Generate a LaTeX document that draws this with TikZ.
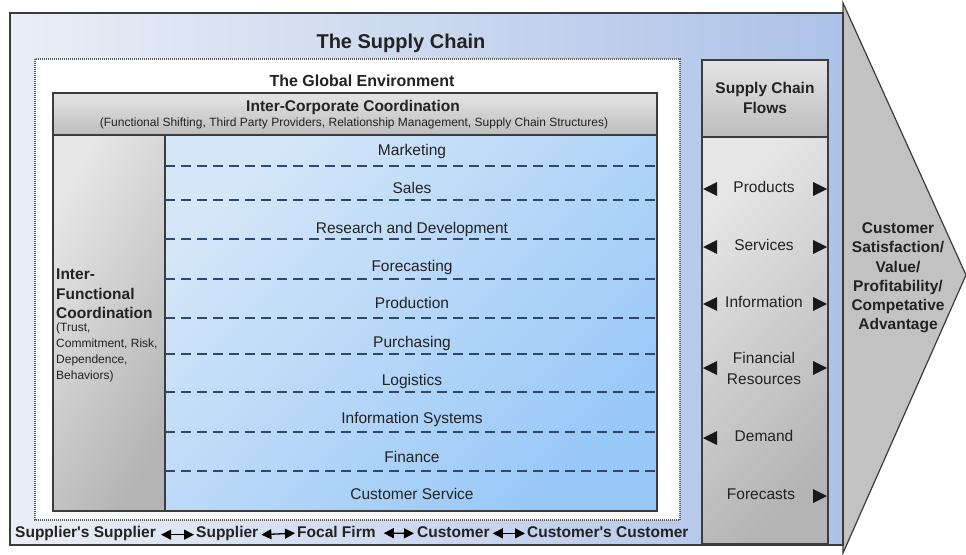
\documentclass[tikz,border=0pt]{standalone}
\usepackage{fontspec}
\setmainfont{Liberation Sans}[Ligatures=TeXOff]
\usetikzlibrary{arrows.meta}
\definecolor{bordc}{HTML}{3C3C3C}
\definecolor{txt}{HTML}{222222}
\definecolor{outL}{HTML}{EAEEF5}
\definecolor{outR}{HTML}{ADC2E8}
\definecolor{hdT}{HTML}{E4E4E4}
\definecolor{hdB}{HTML}{BDBDBD}
\definecolor{colT}{HTML}{E6E6E6}
\definecolor{colB}{HTML}{B4B4B4}
\definecolor{bluT}{HTML}{D4E6F8}
\definecolor{bluB}{HTML}{98C8F8}
\definecolor{dashc}{HTML}{2D4A6C}
\definecolor{dotc}{HTML}{5A5A5A}
\definecolor{arrc}{HTML}{C2C2C2}
\begin{document}
\begin{tikzpicture}[x=1pt,y=-1pt,
  bord/.style={draw=bordc, line width=1.6pt},
  ttl/.style={inner sep=0pt, text=txt, font=\fontsize{20}{24}\selectfont\bfseries},
  hd/.style={inner sep=0pt, text=txt, font=\fontsize{15.5}{19.2}\selectfont\bfseries, align=center},
  fn/.style={inner sep=0pt, text=txt, font=\fontsize{15.5}{21}\selectfont, align=center},
  sm/.style={inner sep=0pt, text=txt, font=\fontsize{12}{15.7}\selectfont, align=left},
  dashln/.style={draw=dashc, line width=1.7pt, dash pattern=on 10pt off 6pt},
  tri/.style={fill=black!90},
  chainarrow/.style={draw=black, line width=1.3pt, {Triangle[length=10pt,width=10pt]}-{Triangle[length=10pt,width=10pt]}},
]
\useasboundingbox (0,0) rectangle (966,554);
\fill[white] (0,0) rectangle (966,554);

% big arrow
\filldraw[fill=arrc, draw=bordc, line width=1.2pt] (843,3) -- (966,275) -- (843,553) -- cycle;

% outer supply chain box
\shade[left color=outL, right color=outR] (10,13) rectangle (843,545);
\draw[bord] (10,13) rectangle (843,545);

% global environment
\fill[white] (35,59) rectangle (680,520);
\draw[draw=dotc, line width=1.5pt, dash pattern=on 1pt off 1pt] (35,59) rectangle (680,520);

% inter-corporate box
\shade[top color=hdT, bottom color=hdB] (53,93) rectangle (657,135);
\shade[top color=colT, bottom color=colB, shading angle=60] (53,135) rectangle (165,511);
\shade[top color=bluT, bottom color=bluB, shading angle=45] (165,135) rectangle (657,511);
\foreach \yy in {166,200,239,279,318,354,392,432,471}
  \draw[dashln] (165,\yy) -- (657,\yy);
\draw[bord] (53,93) rectangle (657,511);
\draw[bord] (53,135) -- (657,135);
\draw[bord] (165,135) -- (165,511);

% flows box
\shade[top color=hdT, bottom color=hdB] (702,60) rectangle (828,137);
\shade[top color=colT, bottom color=colB, shading angle=45] (702,137) rectangle (828,544);
\draw[bord] (702,60) rectangle (828,544);
\draw[bord] (702,137) -- (828,137);

% titles
\node[ttl, anchor=base] (title) at (401,48) {The Supply Chain};
\node[hd, anchor=base, font=\fontsize{16}{19}\selectfont\bfseries] (global) at (362,86) {The Global Environment};
\node[hd, anchor=base] (icc) at (353,111.5) {Inter-Corporate Coordination};
\node[sm, anchor=base] (iccsub) at (354,126.3) {(Functional Shifting, Third Party Providers, Relationship Management, Supply Chain Structures)};

% functions
\node[fn, anchor=base] (mk) at (412,155.5) {Marketing};
\node[fn, anchor=base] (sa) at (412,193.5) {Sales};
\node[fn, anchor=base] (rd) at (412,233.5) {Research and Development};
\node[fn, anchor=base] (fc) at (412,271.5) {Forecasting};
\node[fn, anchor=base] (pr) at (412,308.5) {Production};
\node[fn, anchor=base] (pu) at (412,347.5) {Purchasing};
\node[fn, anchor=base] (lo) at (412,385.5) {Logistics};
\node[fn, anchor=base] (is) at (412,423.5) {Information Systems};
\node[fn, anchor=base] (fi) at (412,462.5) {Finance};
\node[fn, anchor=base] (cs) at (412,499.5) {Customer Service};

% inter-functional
\node[hd, align=left, anchor=north west] (ifc) at (56,269) {Inter-\\Functional\\Coordination};
\node[sm, anchor=north west] (ifcsub) at (56,323) {(Trust,\\Commitment, Risk,\\Dependence,\\Behaviors)};

% flows
\node[hd] (scf) at (765,98) {Supply Chain\\Flows};
\node[fn, anchor=base] (products) at (764,192.5) {Products};
\node[fn, anchor=base] (services) at (764,250.5) {Services};
\node[fn, anchor=base] (information) at (764,307.5) {Information};
\node[fn] (financial) at (764,368) {Financial\\Resources};
\node[fn, anchor=base] (demand) at (764,441.5) {Demand};
\node[fn, anchor=base] (forecasts) at (761,499.5) {Forecasts};
\foreach \yy in {189,247,304,368,438}
  \fill[tri] (703,\yy) -- (717,\yy-7) -- (717,\yy+7) -- cycle;
\foreach \yy in {189,247,304,368,496}
  \fill[tri] (827,\yy) -- (813,\yy-7) -- (813,\yy+7) -- cycle;

% customer satisfaction
\node[hd] (cust) at (898,278) {Customer\\Satisfaction/\\Value/\\Profitability/\\Competative\\Advantage};

% bottom chain
\node[hd, anchor=base west] (b1) at (15,537.5) {Supplier's Supplier};
\node[hd, anchor=base west] (b2) at (196,537.5) {Supplier};
\node[hd, anchor=base west] (b3) at (297,537.5) {Focal Firm};
\node[hd, anchor=base west] (b4) at (417,537.5) {Customer};
\node[hd, anchor=base west] (b5) at (527,537.5) {Customer's Customer};
\draw[chainarrow] ([xshift=5pt,yshift=-1.2pt]b1.east) -- ([xshift=-2pt,yshift=-1.2pt]b2.west);
\draw[chainarrow] ([xshift=3pt,yshift=-1.2pt]b2.east) -- ([xshift=-2pt,yshift=-1.2pt]b3.west);
\draw[chainarrow] ([xshift=8pt,yshift=-1.2pt]b3.east) -- ([xshift=-3pt,yshift=-1.2pt]b4.west);
\draw[chainarrow] ([xshift=3pt,yshift=-1.2pt]b4.east) -- ([xshift=-2pt,yshift=-1.2pt]b5.west);
\end{tikzpicture}
\end{document}
